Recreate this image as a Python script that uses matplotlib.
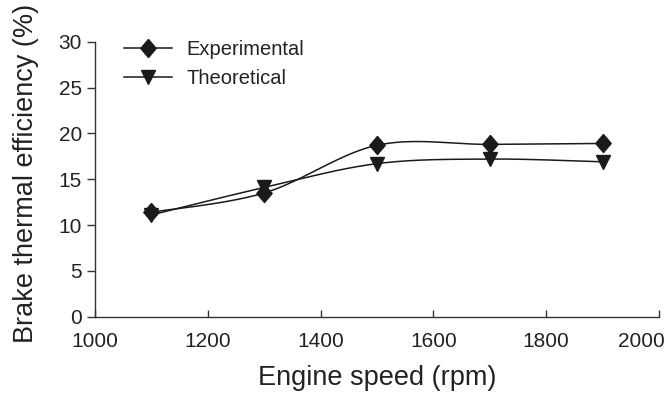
import numpy as np
import matplotlib
matplotlib.use("Agg")
import matplotlib.pyplot as plt
import matplotlib.transforms as mtrans

plt.rcParams['font.family'] = ['Liberation Sans', 'DejaVu Sans']

speed = [1100, 1300, 1500, 1700, 1900]
experimental = [11.4, 13.5, 18.7, 18.8, 18.9]
theoretical = [11.1, 14.1, 16.7, 17.2, 16.9]
x_ticks = [1000, 1200, 1400, 1600, 1800, 2000]
y_ticks = [0, 5, 10, 15, 20, 25, 30]


def smooth_curve(xs, ys, n_seg=40):
    """Excel-style smoothed line: cubic Bezier segments through the points."""
    p = np.column_stack([xs, ys]).astype(float)
    n = len(p)
    t = np.linspace(0, 1, n_seg)[:, None]
    out = [p[:1]]
    for i in range(n - 1):
        p0 = p[i - 1] if i > 0 else p[i]
        p1 = p[i]
        p2 = p[i + 1]
        p3 = p[i + 2] if i + 2 < n else p[i + 1]
        c1 = p1 + (p2 - p0) / 6.0
        c2 = p2 - (p3 - p1) / 6.0
        seg = ((1 - t) ** 3) * p1 + 3 * ((1 - t) ** 2) * t * c1 \
            + 3 * (1 - t) * t ** 2 * c2 + t ** 3 * p2
        out.append(seg[1:])
    return np.vstack(out)


fig = plt.figure(figsize=(6.68, 3.95), dpi=100)
ax = fig.add_axes([0.1422, 0.1982, 0.8443, 0.6962])

axis_col = '#333333'
ink = '#1a1a1a'
for xs, ys in [(speed, experimental), (speed, theoretical)]:
    pts = smooth_curve(xs, ys)
    ax.plot(pts[:, 0], pts[:, 1], color=ink, lw=1.1, zorder=2)

diamond = [(0, 1), (0.85, 0), (0, -1), (-0.85, 0), (0, 1)]
ax.plot(speed, experimental, linestyle='none', marker=diamond, markersize=13,
        color=ink, zorder=3)
ax.plot(speed, theoretical, linestyle='none', marker='v', markersize=9.5,
        color=ink, zorder=3)

# legend handles
h1, = ax.plot([], [], color=ink, lw=1.1, marker=diamond, markersize=13)
h2, = ax.plot([], [], color=ink, lw=1.1, marker='v', markersize=9.5)
fig.legend([h1, h2], ['Experimental', 'Theoretical'], loc='upper left',
           bbox_to_anchor=(124 / 668, 1 - 40 / 395), frameon=False,
           borderpad=0, borderaxespad=0, handlelength=2.4, handletextpad=0.7,
           labelspacing=0.5, fontsize=14.5, labelcolor='#222222')

ax.set_xlim(1000, 2000)
ax.set_ylim(0, 30)
ax.set_xticks(x_ticks)
ax.set_yticks(y_ticks)
ax.spines['top'].set_visible(False)
ax.spines['right'].set_visible(False)
for s in ['left', 'bottom']:
    ax.spines[s].set_color(axis_col)
    ax.spines[s].set_linewidth(1.0)
ax.tick_params(axis='x', direction='in', length=5, width=1.0, color=axis_col,
               labelsize=15, labelcolor='#222222', pad=11)
ax.tick_params(axis='y', direction='out', length=5.5, width=1.0, color=axis_col,
               labelsize=15, labelcolor='#222222', pad=4)
ax.set_xlabel('Engine speed (rpm)', fontsize=19.5, color='#222222', labelpad=10)
ax.set_ylabel('Brake thermal efficiency (%)', fontsize=19.5, color='#222222')
ax.yaxis.set_label_coords(-0.1, 0.52)

# keep the last x tick label inside the figure, as in the reference
last = ax.get_xticklabels()[-1]
last.set_transform(last.get_transform() +
                   mtrans.ScaledTranslation(-18 / 100, 0, fig.dpi_scale_trans))

fig.savefig('out.png', dpi=100)
